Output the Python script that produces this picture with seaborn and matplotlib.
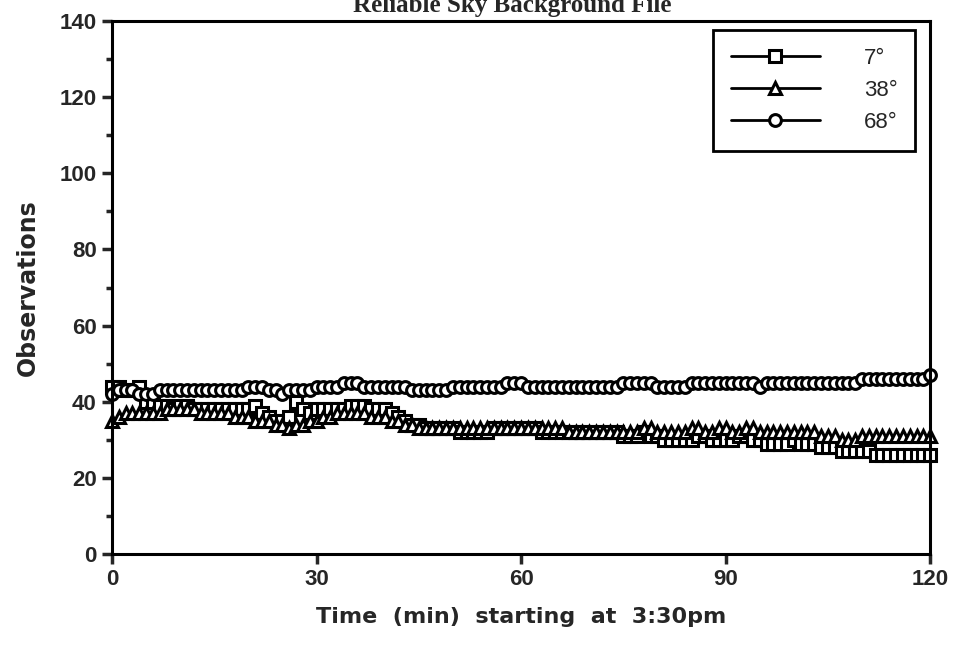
import numpy as np
import pandas as pd
import matplotlib
matplotlib.use("Agg")
import matplotlib.pyplot as plt
import seaborn as sns

# minutes after 3:30pm, one reading per minute
minutes = list(range(0, 121))

obs_7 = [44, 44, 43, 43, 44, 40, 40, 39, 39, 38,
         39, 39, 38, 38, 38, 38, 38, 38, 38, 38,
         38, 39, 37, 36, 35, 35, 36, 40, 38, 37,
         38, 38, 38, 38, 38, 39, 39, 39, 38, 38,
         38, 37, 36, 35, 34, 34, 33, 33, 33, 33,
         33, 32, 32, 32, 32, 32, 33, 33, 33, 33,
         33, 33, 33, 32, 32, 32, 32, 32, 32, 32,
         32, 32, 32, 32, 32, 31, 31, 31, 32, 31,
         31, 30, 30, 30, 30, 30, 31, 31, 30, 30,
         30, 30, 31, 31, 30, 30, 29, 29, 29, 29,
         30, 29, 29, 29, 28, 28, 28, 27, 27, 27,
         27, 27, 26, 26, 26, 26, 26, 26, 26, 26, 26]

obs_38 = [35, 36, 37, 37, 37, 37, 37, 37, 38, 38,
          38, 38, 38, 37, 37, 37, 37, 37, 36, 36,
          36, 35, 35, 35, 34, 34, 33, 34, 34, 35,
          35, 36, 36, 37, 37, 37, 37, 37, 36, 36,
          36, 35, 35, 34, 34, 33, 33, 33, 33, 33,
          33, 33, 33, 33, 33, 33, 33, 33, 33, 33,
          33, 33, 33, 33, 33, 33, 33, 32, 32, 32,
          32, 32, 32, 32, 32, 32, 32, 32, 33, 33,
          32, 32, 32, 32, 32, 33, 33, 32, 32, 33,
          33, 32, 32, 33, 33, 32, 32, 32, 32, 32,
          32, 32, 32, 32, 31, 31, 31, 30, 30, 30,
          31, 31, 31, 31, 31, 31, 31, 31, 31, 31, 31]

obs_68 = [42, 43, 43, 43, 42, 42, 42, 43, 43, 43,
          43, 43, 43, 43, 43, 43, 43, 43, 43, 43,
          44, 44, 44, 43, 43, 42, 43, 43, 43, 43,
          44, 44, 44, 44, 45, 45, 45, 44, 44, 44,
          44, 44, 44, 44, 43, 43, 43, 43, 43, 43,
          44, 44, 44, 44, 44, 44, 44, 44, 45, 45,
          45, 44, 44, 44, 44, 44, 44, 44, 44, 44,
          44, 44, 44, 44, 44, 45, 45, 45, 45, 45,
          44, 44, 44, 44, 44, 45, 45, 45, 45, 45,
          45, 45, 45, 45, 45, 44, 45, 45, 45, 45,
          45, 45, 45, 45, 45, 45, 45, 45, 45, 45,
          46, 46, 46, 46, 46, 46, 46, 46, 46, 46, 47]

labels = ["7°", "38°", "68°"]
markers = ["s", "^", "o"]

sns.set_style("ticks")
plt.rcParams["font.family"] = ["Liberation Sans", "DejaVu Sans"]

fig = plt.figure(figsize=(9.57, 6.48), dpi=100)
ax = fig.add_axes([0.117, 0.145, 0.855, 0.8225])

for vals, lab, mk in zip([obs_7, obs_38, obs_68], labels, markers):
    df = pd.DataFrame({"minute": minutes, "obs": vals})
    sns.lineplot(data=df, x="minute", y="obs", ax=ax, color="black",
                 linewidth=2, marker=mk, markersize=8.5,
                 markerfacecolor="white", markeredgecolor="black",
                 markeredgewidth=2.2, label=lab, clip_on=False)

ax.set_xlim(0, 120)
ax.set_ylim(0, 140)
ax.set_xticks([0, 30, 60, 90, 120])
ax.set_yticks(range(0, 141, 20))
ax.set_yticks(range(10, 140, 20), minor=True)
ax.tick_params(axis="both", which="major", labelsize=16, width=2.5,
               length=7, direction="out", pad=4)
ax.tick_params(axis="y", which="minor", width=2.5, length=4, direction="out")
for t in ax.get_xticklabels() + ax.get_yticklabels():
    t.set_fontweight("bold")
for s in ax.spines.values():
    s.set_linewidth(2.2)
    s.set_color("black")

ax.set_xlabel("Time  (min)  starting  at  3:30pm", fontsize=16,
              fontweight="bold", family="DejaVu Sans", labelpad=12)
ax.set_ylabel("Observations", fontsize=17, fontweight="bold",
              family="DejaVu Sans", labelpad=14)

leg = ax.legend(loc="upper right", bbox_to_anchor=(0.982, 0.983),
                borderaxespad=0, fancybox=False, framealpha=1,
                edgecolor="black", fontsize=16, handlelength=4.0,
                handletextpad=2.0, labelspacing=0.5, borderpad=0.8)
leg.get_frame().set_linewidth(2)

# title is cut off at the top edge in the source scan
fig.text(0.535, 1 - 12 / 648, "Reliable Sky Background File",
         ha="center", va="baseline", fontsize=18, fontweight="bold",
         family="Liberation Serif")

fig.savefig("out.png", dpi=100)
